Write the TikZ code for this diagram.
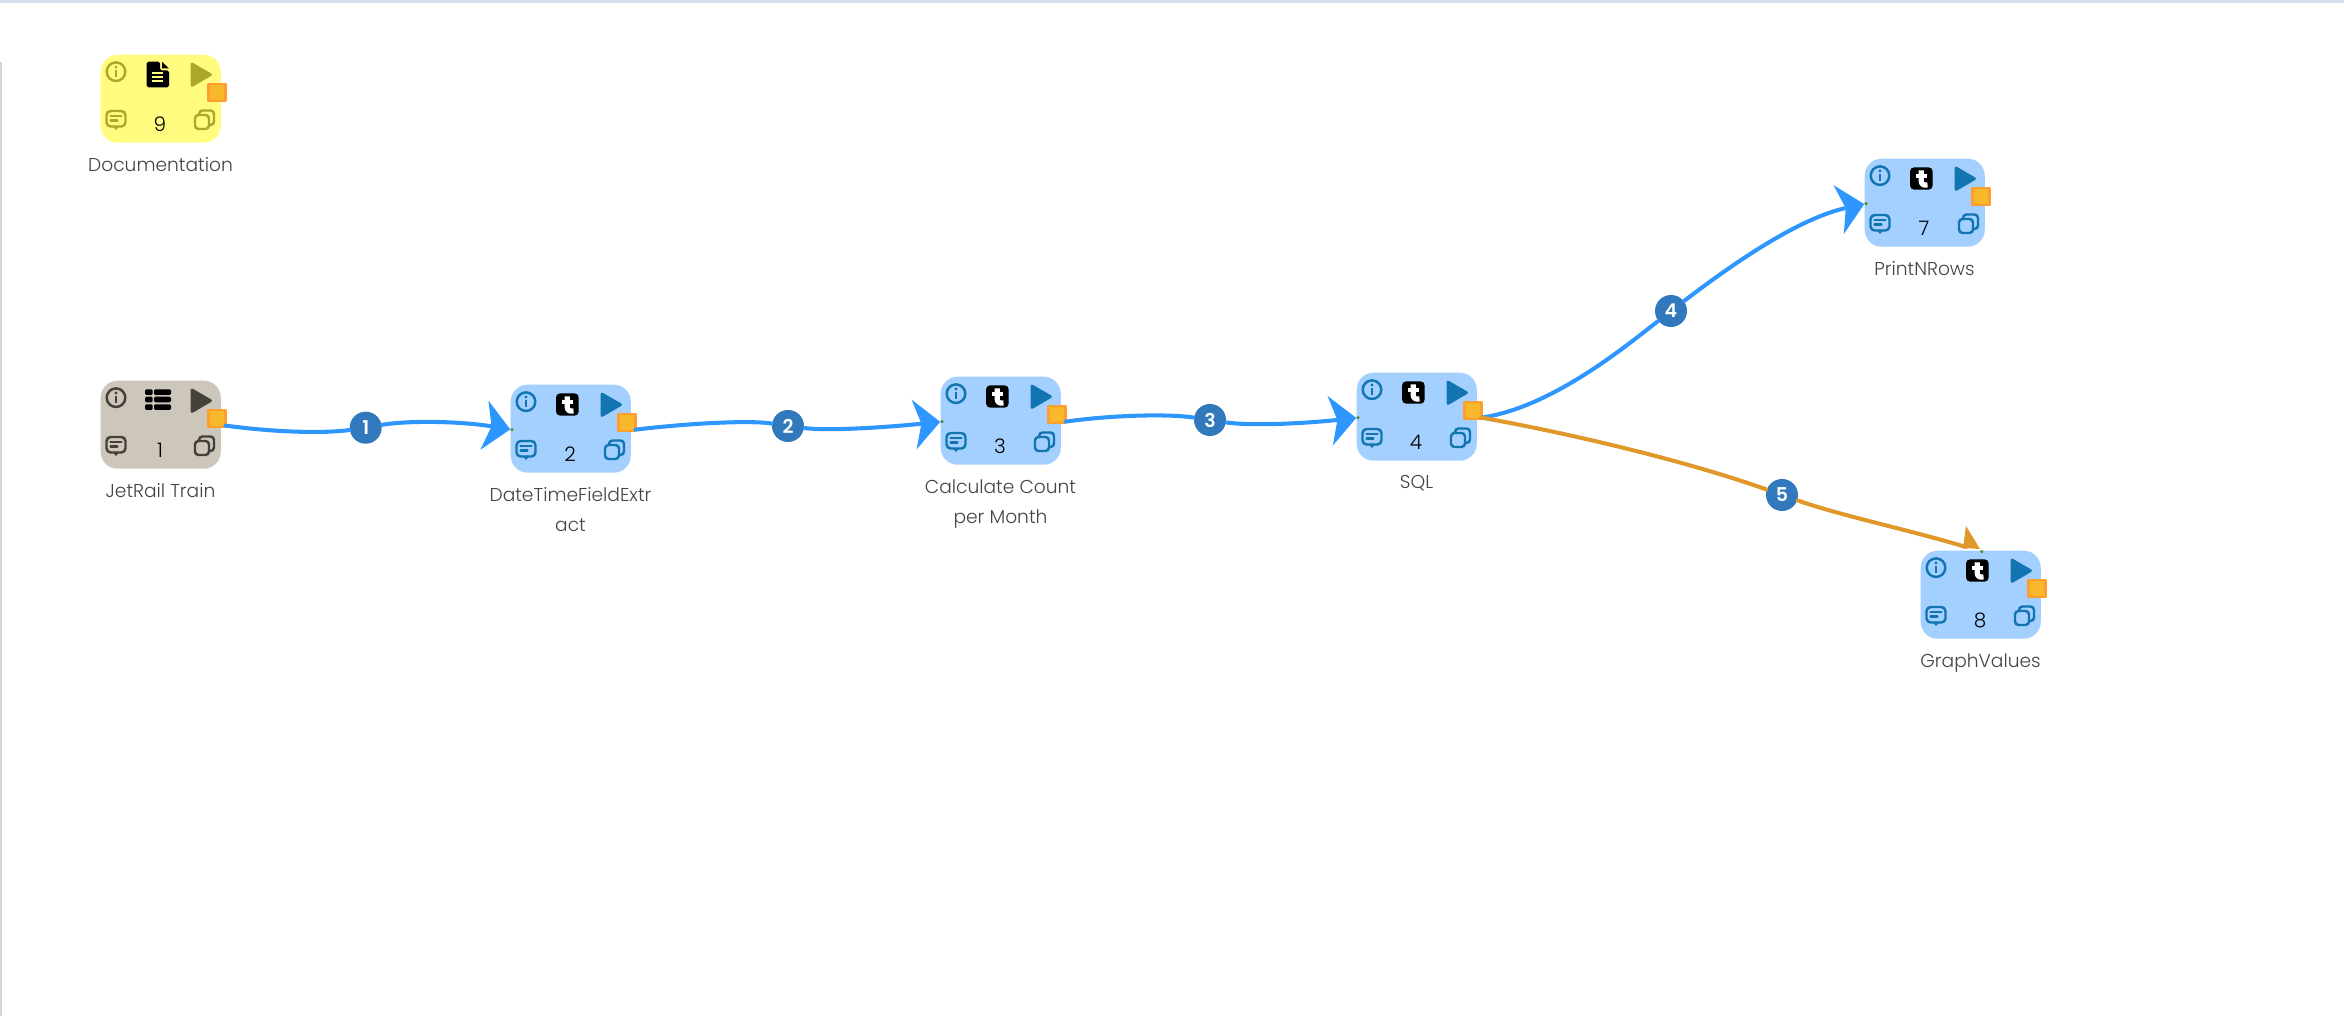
\documentclass[tikz,border=0pt]{standalone}
\usepackage{fontspec}
\setmainfont{Poppins}[UprightFont=* Light,BoldFont=* SemiBold]
\usetikzlibrary{arrows.meta}
\definecolor{opblue}{HTML}{A3D0FF}
\definecolor{opbluedark}{HTML}{1274B0}
\definecolor{opstone}{HTML}{CDC6BA}
\definecolor{opstonedark}{HTML}{45413A}
\definecolor{opyellow}{HTML}{FFFC80}
\definecolor{opyellowdark}{HTML}{ABA92B}
\definecolor{portfill}{HTML}{F9B82B}
\definecolor{portline}{HTML}{FF9D2E}
\definecolor{linkblue}{HTML}{2E96FF}
\definecolor{linkorange}{HTML}{E0982B}
\definecolor{badgeblue}{HTML}{3278BD}
\definecolor{labelgrey}{HTML}{444444}
\definecolor{topbar}{HTML}{D6E0EE}
\definecolor{sidebar}{HTML}{D0D5E0}
\definecolor{dotgreen}{HTML}{4F8A2B}
\tikzset{
    opbody/.style={anchor=north west,minimum width=1.2cm,minimum height=.88cm,inner sep=0pt,rounded corners=.17cm},
    opport/.style={draw=portline,fill=portfill,line width=.7pt,minimum size=.165cm,inner sep=0pt,outer sep=0pt},
    opnum/.style={font=\fontsize{5.7}{6}\selectfont,text=black,inner sep=0pt},
    oplabel/.style={anchor=north,align=center,text=labelgrey,inner sep=0pt,font=\fontsize{5.3}{8.5}\selectfont},
    opline/.style={line width=.7pt},
    indot/.style={circle,fill=dotgreen,minimum size=.035cm,inner sep=0pt,outer sep=0pt},
    badge/.style={circle,fill=badgeblue,text=white,minimum size=.32cm,inner sep=0pt,font=\fontsize{5.4}{6}\selectfont\bfseries},
    link/.style={line width=1.15pt,draw=linkblue,-{Stealth[length=7.4pt,width=14pt,inset=2pt]}},
    linkplain/.style={line width=1.15pt,draw=linkblue},
    linkalt/.style={line width=1.15pt,draw=linkorange}
}
\newcommand{\icontype}{
        \fill[black,rounded corners=1.2pt] (46,9.3) rectangle (68.7,31.7);
        \draw[white,line width=1.5pt,line cap=butt] (57.2,12.5) -- (57.2,23) .. controls (57.2,26.5) and (60,27.6) .. (63.5,27);
        \draw[white,line width=1.1pt,line cap=butt] (52,18.2) -- (63,18.2);
}
\newcommand{\iconrows}{
        \foreach \rowtop in {9.3,16.7,24.3}{
            \fill[black,rounded corners=.4pt] (45,\rowtop) rectangle (52.7,\rowtop+5.7);
            \fill[black,rounded corners=.4pt] (54,\rowtop) rectangle (71,\rowtop+5.7);
        }
}
\newcommand{\iconsheet}[1]{
        \fill[black,rounded corners=.5pt] (46.7,7.7) -- (60,7.7) -- (60,16.5) -- (69,16.5) -- (69,33.3) -- (46.7,33.3) -- cycle;
        \fill[black] (62,7.7) -- (69,14.5) -- (62,14.5) -- cycle;
        \draw[#1,line width=.6pt,line cap=butt] (51.7,18.7) -- (63,18.7);
        \draw[#1,line width=.6pt,line cap=butt] (51.7,22.7) -- (63,22.7);
        \draw[#1,line width=.6pt,line cap=butt] (51.7,26.7) -- (63,26.7);
}
\newcommand{\opbox}[7]{
    \begin{scope}[shift={(#2)}]
        \node[opbody,fill=#3] (#1) at (0,0) {};
        \draw[opline,#4] (16,17.7) circle (9.3);
        \fill[#4] (16,13) circle (1.6);
        \draw[#4,line width=.75pt,line cap=butt] (16,16.2) -- (16,23);
        #5
        \fill[#4,draw=#4,line width=.8pt,line join=round] (92,10) -- (110.5,20.7) -- (92,31.5) -- cycle;
        \draw[opline,#4,rounded corners=1.2pt] (6.5,57) rectangle (25.5,72.5);
        \fill[#4] (12.5,72) -- (16,76) -- (19.5,72) -- cycle;
        \draw[#4,line width=.6pt] (10.5,62) -- (21.5,62);
        \draw[#4,line width=.6pt] (10.5,66.5) -- (17.5,66.5);
        \draw[opline,#4,rounded corners=1pt] (95,61) rectangle (109,75);
        \draw[opline,#4,rounded corners=1pt] (99,61) -- (99,56.5) -- (114,56.5) -- (114,71) -- (109,71);
        \node[opnum] (#1num) at (60,70) {#6};
        \node[oplabel] (#1label) at (60.5,103) {#7};
        \node[opport,minimum size=.17cm] (#1out) at (117,38.5) {};
    \end{scope}
}
\begin{document}
\begin{tikzpicture}[line cap=round,line join=round,x=0.01cm,y=-0.01cm]
        \useasboundingbox (0,0) rectangle (2344,1016);
        \fill[white] (0,0) rectangle (2344,1016);
        \fill[topbar] (0,0) rectangle (2344,3);
        \fill[sidebar] (0,62) rectangle (2,1016);

        \opbox{doc}{100,54}{opyellow}{opyellowdark}{\iconsheet{opyellow}}{9}{Documentation}
        \opbox{jetrail}{100,380}{opstone}{opstonedark}{\iconrows}{1}{JetRail Train}
        \opbox{datetime}{510,384}{opblue}{opbluedark}{\icontype}{2}{DateTimeFieldExtr\\act}
        \opbox{calc}{940,376}{opblue}{opbluedark}{\icontype}{3}{Calculate Count\\per Month}
        \opbox{sql}{1356,372}{opblue}{opbluedark}{\icontype}{4}{SQL}
        \opbox{print}{1864,158}{opblue}{opbluedark}{\icontype}{7}{PrintNRows}
        \opbox{graph}{1920,550}{opblue}{opbluedark}{\icontype}{8}{GraphValues}

        \node[indot] (datetimein) at (512,429.7) {};
        \node[indot] (calcin) at (942,421.7) {};
        \node[indot] (sqlin) at (1358,417.7) {};
        \node[indot] (printin) at (1866,203.7) {};
        \node[indot] (graphin) at (1981.7,551.7) {};
        \coordinate (graphtip) at (1966,547);

        \node[badge] (badge1) at (365.7,427.7) {1};
        \node[badge] (badge2) at (788,426) {2};
        \node[badge] (badge3) at (1210,420) {3};
        \node[badge] (badge4) at (1671,311) {4};
        \node[badge] (badge5) at (1782,495) {5};

        \draw[linkplain] (jetrailout.-40) .. controls +(60,8) and +(-35,5) .. (badge1);
        \draw[link] (badge1) .. controls +(40,-7) and +(-55,-9) .. (datetimein);
        \draw[linkplain] (datetimeout.-40) .. controls +(50,-6) and +(-40,-6) .. (badge2);
        \draw[link] (badge2) .. controls +(40,5) and +(-60,6) .. (calcin);
        \draw[linkplain] (calcout.-40) .. controls +(50,-7) and +(-40,-6) .. (badge3);
        \draw[link] (badge3) .. controls +(40,6) and +(-55,6) .. (sqlin);
        \draw[linkplain] (sqlout.-40) .. controls +(70,-10) and +(-45,35) .. (badge4);
        \draw[link] (badge4) .. controls +(55,-42) and +(-70,15) .. (printin);
        \draw[linkalt] (sqlout.-40) .. controls +(100,18) and +(-90,-32) .. (badge5);
        \draw[linkalt] (badge5) .. controls +(60,21) and +(-60,-18) .. (graphtip);
        \fill[linkorange] (1966,526) -- (1980,549) -- (1963,548) -- cycle;
\end{tikzpicture}
\end{document}
